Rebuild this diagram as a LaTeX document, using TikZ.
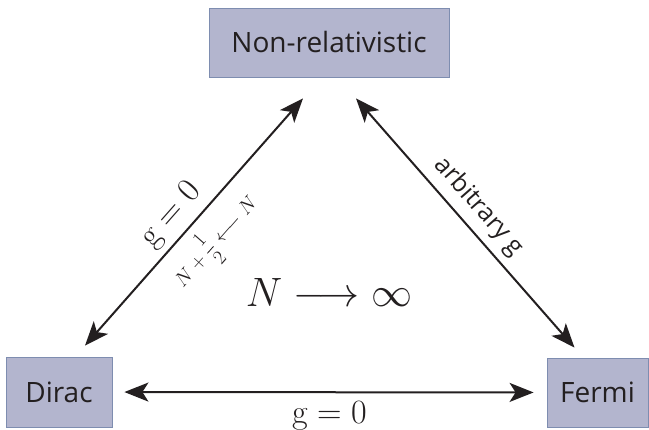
\RequirePackage{fix-cm}
\documentclass[tikz,border=0pt]{standalone}
\usepackage[no-math]{fontspec}
\usepackage{amsmath}
\newfontfamily\boxfont{Open Sans}
\usetikzlibrary{arrows.meta,positioning}
\definecolor{boxfill}{HTML}{B3B5CE}
\definecolor{boxline}{HTML}{7E8DB0}
\definecolor{ink}{HTML}{231F20}

\begin{document}
\begin{tikzpicture}[x=1pt,y=1pt,
  regime/.style={draw=boxline,fill=boxfill,line width=.8pt,inner sep=0pt,text=ink,font=\boxfont\fontsize{28}{34}\selectfont},
  dbl/.style={{Stealth[length=24pt,width=19pt,inset=6pt]}-{Stealth[length=24pt,width=19pt,inset=6pt]},line width=2pt,ink},
  lbl/.style={font=\fontsize{34}{40}\selectfont,text=ink}]
\useasboundingbox (0,0) rectangle (649,430);
\node[regime,minimum width=240pt,minimum height=69pt] (nonrel) at (329,387.5) {Non-relativistic};
\node[regime,minimum width=106pt,minimum height=70pt] (dirac) at (59,38) {Dirac};
\node[regime,minimum width=101pt,minimum height=69pt] (fermi) at (597.5,37.5) {Fermi};
% arrow ends, kept off the boxes
\coordinate (nl) at ([xshift=-26pt,yshift=-21pt]nonrel.south);
\coordinate (nr) at ([xshift=27pt,yshift=-21pt]nonrel.south);
\coordinate (dt) at ([xshift=26pt,yshift=11pt]dirac.north);
\coordinate (ft) at ([xshift=-23pt,yshift=10pt]fermi.north);
\draw[dbl] (dt) -- (nl)
  node[pos=.47,sloped,above=3pt,lbl] {$\mathrm{g}=0$}
  node[pos=.5,sloped,below=5pt,font=\fontsize{20}{24}\selectfont,text=ink] {$N+\dfrac{1}{2}\longleftarrow N$};
\draw[dbl] (nr) -- (ft)
  node[pos=.49,sloped,above=4pt,font=\boxfont\fontsize{25}{30}\selectfont,text=ink] {arbitrary g};
\draw[dbl,shorten <=12pt,shorten >=13pt] (dirac) -- (fermi)
  node[midway,below=5pt,lbl] {$\mathrm{g}=0$};
\node[font=\fontsize{41}{48}\selectfont,text=ink] (largeN) at (329,138) {$N\longrightarrow\infty$};
\end{tikzpicture}
\end{document}
